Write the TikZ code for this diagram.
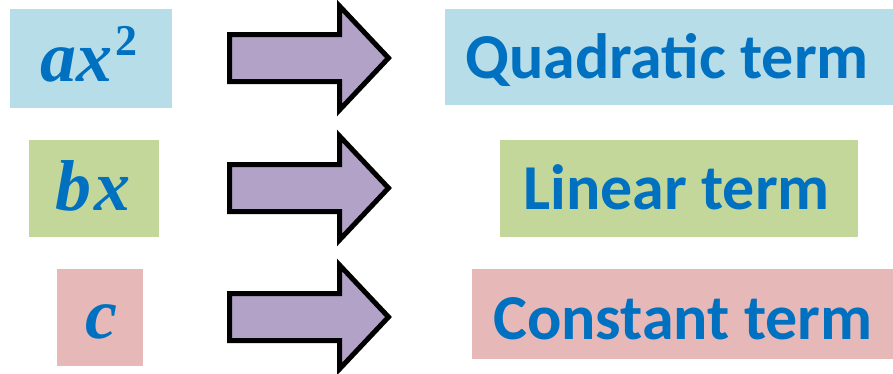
\documentclass[tikz,border=0pt]{standalone}
\usepackage{fontspec}
\setsansfont{Carlito}
\newfontfamily\termserif{Liberation Serif}
\definecolor{termblue}{HTML}{0070C0}
\definecolor{boxblue}{HTML}{B7DEE8}
\definecolor{boxgreen}{HTML}{C4D79B}
\definecolor{boxpink}{HTML}{E6B8B7}
\definecolor{arrowlilac}{HTML}{B3A2C7}
% upright bold exponent raised above the baseline
\newcommand{\sqexp}[1]{\raisebox{26pt}{\fontsize{44}{48}\selectfont\bfseries\upshape #1}}
\begin{document}
\begin{tikzpicture}[x=1pt,y=-1pt,
  mathlabel/.style={inner sep=0pt,anchor=base,text=termblue,
    font=\fontsize{72}{76}\selectfont\termserif\bfseries\itshape},
  wordlabel/.style={inner sep=0pt,anchor=base west,text=termblue,
    font=\fontsize{64}{68}\selectfont\sffamily\bfseries},
  blockarrow/.style={draw=black,line width=5pt,fill=arrowlilac,miter limit=4}]
  \useasboundingbox (0,0) rectangle (893,373);

  % coloured backgrounds
  \fill[boxblue]  (10,9)    rectangle (172,108);
  \fill[boxgreen] (29,140)  rectangle (159,237);
  \fill[boxpink]  (57,269)  rectangle (143,366);
  \fill[boxblue]  (445,9)   rectangle (893,105);
  \fill[boxgreen] (500,140) rectangle (858,237);
  \fill[boxpink]  (472,269) rectangle (893,359);

  % terms of the polynomial
  \node[mathlabel] (a) at (89,81)  {ax\kern3pt\sqexp{2}};
  \node[mathlabel] (b) at (93,210) {b\kern3pt x};
  \node[mathlabel] (c) at (101,338) {c};

  % names of the terms
  \node[wordlabel] (quad) at (465,78)  {Quadratic term};
  \node[wordlabel] (lin)  at (523,209) {Linear term};
  \node[wordlabel] (cst)  at (493,339) {Constant term};

  % block arrows between them
  \foreach \cy/\nm in {58/arr1,188/arr2,317/arr3}{
    \coordinate (\nm) at (309,\cy);
    \draw[blockarrow] (229.5,\cy-23.5) -- (339.5,\cy-23.5) -- (339.5,\cy-52)
      -- (388.5,\cy) -- (339.5,\cy+52) -- (339.5,\cy+23.5)
      -- (229.5,\cy+23.5) -- cycle;
  }
\end{tikzpicture}
\end{document}
